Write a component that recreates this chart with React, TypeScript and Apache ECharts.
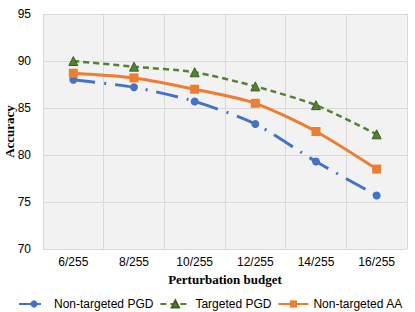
import React, { useEffect, useRef } from "react";
import * as echarts from "echarts";

const categories = ["6/255", "8/255", "10/255", "12/255", "14/255", "16/255"];
const nonTargetedPGD = [88.0, 87.2, 85.7, 83.3, 79.3, 75.7];
const targetedPGD = [90.0, 89.4, 88.8, 87.3, 85.3, 82.2];
const nonTargetedAA = [88.7, 88.2, 87.0, 85.5, 82.5, 78.5];

export default function App() {
  const ref = useRef<HTMLDivElement>(null);
  useEffect(() => {
    document.body.style.margin = "0";
    const chart = echarts.init(ref.current!, null, { renderer: "svg" });
    const sans = "Liberation Sans";
    const serif = "Liberation Serif";
    chart.setOption({
      animation: false,
      backgroundColor: "#ffffff",
      grid: {
        left: 43,
        right: 8,
        top: 14,
        bottom: 63,
        show: true,
        backgroundColor: "#f2f2f2",
        borderWidth: 0,
        containLabel: false,
        outerBoundsMode: "none",
      },
      xAxis: {
        type: "category",
        data: categories,
        boundaryGap: true,
        name: "Perturbation budget",
        nameLocation: "middle",
        nameMoveOverlap: false,
        nameGap: 23.5,
        nameTextStyle: { fontFamily: serif, fontWeight: "bold", fontSize: 13, color: "#000" },
        axisLine: { show: false },
        axisTick: { show: false },
        axisLabel: { fontFamily: sans, fontSize: 12, color: "#000", margin: 7 },
        splitLine: { show: true, lineStyle: { color: "#d9d9d9", width: 1 } },
      },
      yAxis: {
        type: "value",
        min: 70,
        max: 95,
        interval: 5,
        name: "Accuracy",
        nameLocation: "middle",
        nameMoveOverlap: false,
        nameGap: 27,
        nameTextStyle: { fontFamily: serif, fontWeight: "bold", fontSize: 13, color: "#000" },
        axisLine: { show: false },
        axisTick: { show: false },
        axisLabel: { fontFamily: sans, fontSize: 12, color: "#000", margin: 12 },
        splitLine: { show: true, lineStyle: { color: "#d9d9d9", width: 1 } },
      },
      legend: {
        top: 293,
        left: 13,
        itemWidth: 30,
        itemHeight: 9,
        itemGap: 6,
        textStyle: { fontFamily: sans, fontSize: 12, color: "#000", letterSpacing: 0.3 },
        data: ["Non-targeted PGD", "Targeted PGD", "Non-targeted AA"],
      },
      series: [
        {
          name: "Non-targeted PGD",
          type: "line",
          data: nonTargetedPGD,
          smooth: 0.25,
          symbol: "circle",
          symbolSize: 8,
          itemStyle: { color: "#4472C4" },
          lineStyle: { color: "#4472C4", width: 3, type: [22, 9, 2, 9] },
          z: 2,
        },
        {
          name: "Targeted PGD",
          type: "line",
          data: targetedPGD,
          smooth: 0.25,
          symbol: "triangle",
          symbolSize: 9,
          itemStyle: { color: "#548235", borderColor: "#3b5e25", borderWidth: 1 },
          lineStyle: { color: "#548235", width: 2.5, type: [6, 4] },
          z: 3,
        },
        {
          name: "Non-targeted AA",
          type: "line",
          data: nonTargetedAA,
          smooth: 0.25,
          symbol: "rect",
          symbolSize: 9,
          itemStyle: { color: "#ED7D31" },
          lineStyle: { color: "#ED7D31", width: 3 },
          z: 4,
        },
      ],
    });
    return () => chart.dispose();
  }, []);
  return <div ref={ref} style={{ width: 415, height: 312 }} />;
}
